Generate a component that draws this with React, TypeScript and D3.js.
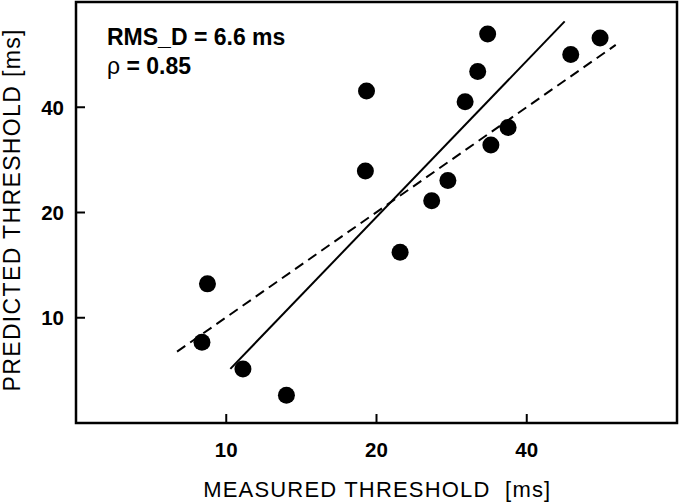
import React from "react";
import * as d3 from "d3";

const measured = [33.4, 31.9, 30.1, 19.1, 19.0, 36.7, 33.9, 27.8, 25.8, 49.0, 56.1, 22.3, 9.17, 8.94, 10.8, 13.2];
const predicted = [64.8, 50.6, 41.5, 44.5, 26.3, 35.0, 31.2, 24.7, 21.6, 56.6, 63.1, 15.4, 12.5, 8.51, 7.14, 6.0];
const fitX = [10.19, 47.65];
const fitY = [7.14, 70.4];
const idX = [7.97, 60.3];
const idY = [8.0, 60.3];
const tickValues = [10, 20, 40];

export default function App() {
  const left = 76, right = 677, top = 2, bottom = 423;
  const x = d3.scaleLog().domain([5, 80]).range([left, right]);
  const y = d3.scaleLog().domain([5, 80]).range([bottom, top]);
  const line = d3.line<[number, number]>().x(d => x(d[0])).y(d => y(d[1]));
  const fit: [number, number][] = fitX.map((v, i) => [v, fitY[i]]);
  const ident: [number, number][] = idX.map((v, i) => [v, idY[i]]);
  const font = "'Liberation Sans', Arial, Helvetica, sans-serif";
  return (
    <svg width={680} height={503} style={{ position: "absolute", left: 0, top: 0, background: "#fff" }} fontFamily={font}>
      <rect x={left} y={top} width={right - left} height={bottom - top} fill="none" stroke="#000" strokeWidth={2.5} />
      {tickValues.map(t => (
        <g key={"x" + t}>
          <line x1={x(t)} x2={x(t)} y1={bottom} y2={bottom - 9} stroke="#000" strokeWidth={2} />
          <text x={x(t)} y={456.5} textAnchor="middle" fontSize={20.5} fontWeight="bold">{t}</text>
        </g>
      ))}
      {tickValues.map(t => (
        <g key={"y" + t}>
          <line x1={left} x2={left + 9} y1={y(t)} y2={y(t)} stroke="#000" strokeWidth={2} />
          <text x={64} y={y(t)} dy="0.36em" textAnchor="end" fontSize={20.5} fontWeight="bold">{t}</text>
        </g>
      ))}
      <path d={line(ident) || ""} fill="none" stroke="#000" strokeWidth={2} strokeDasharray="10,6" />
      <path d={line(fit) || ""} fill="none" stroke="#000" strokeWidth={2} />
      {measured.map((m, i) => (
        <circle key={i} cx={x(m)} cy={y(predicted[i])} r={8.5} fill="#000" />
      ))}
      <text x={107} y={44.5} fontSize={23} fontWeight="bold">RMS_D = 6.6 ms</text>
      <text x={107} y={73.5} fontSize={23} fontWeight="bold"><tspan fontWeight="normal">ρ</tspan> = 0.85</text>
      <text x={376.7} y={496.5} textAnchor="middle" fontSize={22} textLength={347} lengthAdjust="spacing" style={{ whiteSpace: "pre" }}>MEASURED THRESHOLD  [ms]</text>
      <text transform="translate(20,210.5) rotate(-90)" textAnchor="middle" fontSize={23} textLength={362} lengthAdjust="spacing">PREDICTED THRESHOLD [ms]</text>
    </svg>
  );
}
